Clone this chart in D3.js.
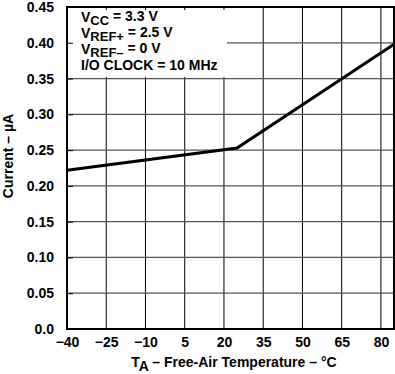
<!DOCTYPE html>
<html>
<head>
<meta charset="utf-8">
<script src="https://cdn.jsdelivr.net/npm/d3@7"></script>
<style>
  body { margin: 0; background: #fff; }
  text { font-family: "Liberation Sans", Arial, sans-serif; font-weight: bold; fill: #000; }
</style>
</head>
<body>
<svg id="chart"></svg>
<script>
// temperature (°C) vs supply current (µA)
const temps = [-40, 25, 85];
const currents = [0.222, 0.253, 0.398];

const xTicks = [-40, -25, -10, 5, 20, 35, 50, 65, 80];
const yTicks = [0, 0.05, 0.1, 0.15, 0.2, 0.25, 0.3, 0.35, 0.4, 0.45];

const width = 395;
const height = 374;
const margin = { top: 7, right: 1, bottom: 45, left: 67 };

const svg = d3.select('#chart')
  .attr('width', width)
  .attr('height', height);

const xScale = d3.scaleLinear()
  .domain([-40, 85])
  .range([margin.left, width - margin.right]);

const yScale = d3.scaleLinear()
  .domain([0, 0.45])
  .range([height - margin.bottom, margin.top]);

// grid
svg.append('g')
  .selectAll('line')
  .data(xTicks.slice(1))
  .join('line')
  .attr('x1', d => xScale(d))
  .attr('x2', d => xScale(d))
  .attr('y1', yScale(0))
  .attr('y2', yScale(0.45))
  .attr('stroke', '#000')
  .attr('stroke-width', 1);

svg.append('g')
  .selectAll('line')
  .data(yTicks.slice(1, -1))
  .join('line')
  .attr('x1', xScale(-40))
  .attr('x2', xScale(85))
  .attr('y1', d => yScale(d))
  .attr('y2', d => yScale(d))
  .attr('stroke', '#555')
  .attr('stroke-width', 1.2);

// legend background
svg.append('rect')
  .attr('x', xScale(-40) + 1)
  .attr('y', 10)
  .attr('width', 227 - xScale(-40) - 1)
  .attr('height', 67)
  .attr('fill', '#fff');

// frame
svg.append('rect')
  .attr('x', xScale(-40))
  .attr('y', yScale(0.45))
  .attr('width', xScale(85) - xScale(-40))
  .attr('height', yScale(0) - yScale(0.45))
  .attr('fill', 'none')
  .attr('stroke', '#000')
  .attr('stroke-width', 2);

// axes
const xAxis = d3.axisBottom(xScale)
  .tickValues(xTicks)
  .tickSize(0)
  .tickPadding(8)
  .tickFormat(d => d3.format('')(d).replace('-', '\u2212'));

const yAxis = d3.axisLeft(yScale)
  .tickValues(yTicks)
  .tickSizeInner(-6)
  .tickSizeOuter(0)
  .tickPadding(13)
  .tickFormat(d => d === 0 ? '0.0' : d3.format('.2f')(d));

svg.append('g')
  .attr('transform', `translate(0,${yScale(0)})`)
  .call(xAxis)
  .call(g => g.select('.domain').remove())
  .selectAll('text')
  .style('font-size', '14px');

svg.append('g')
  .attr('transform', `translate(${xScale(-40)},0)`)
  .call(yAxis)
  .call(g => g.select('.domain').remove())
  .call(g => g.selectAll('.tick line').attr('stroke-width', 1))
  .selectAll('text')
  .style('font-size', '14px');

// data line
const valueline = d3.line()
  .x((d, i) => xScale(temps[i]))
  .y(d => yScale(d));

svg.append('path')
  .datum(currents)
  .attr('fill', 'none')
  .attr('stroke', '#000')
  .attr('stroke-width', 3)
  .attr('d', valueline);

// legend text
const legend = svg.append('g').style('font-size', '14px');
const lx = 81;
const rows = [
  { main: 'V', sub: 'CC', rest: ' = 3.3 V' },
  { main: 'V', sub: 'REF+', rest: ' = 2.5 V' },
  { main: 'V', sub: 'REF\u2013', rest: ' = 0 V' },
  { main: 'I/O CLOCK = 10 MHz', sub: '', rest: '' },
];
rows.forEach((r, i) => {
  const t = legend.append('text')
    .attr('x', lx)
    .attr('y', 22 + i * 16);
  t.append('tspan').text(r.main);
  if (r.sub) {
    t.append('tspan').attr('dy', 3).style('font-size', '13px').text(r.sub);
    t.append('tspan').attr('dy', -4).text(r.rest);
  }
});

// labels
const xl = svg.append('text')
  .attr('text-anchor', 'middle')
  .attr('x', 234)
  .attr('y', 367)
  .style('font-size', '14px');
xl.append('tspan').text('T');
xl.append('tspan').attr('dy', 4).text('A');
xl.append('tspan').attr('dy', -4).text(' \u2013 Free-Air Temperature \u2013 \u00b0C');

svg.append('text')
  .attr('text-anchor', 'middle')
  .attr('transform', 'translate(13,156) rotate(-90)')
  .style('font-size', '14px')
  .text('Current \u2013 \u00b5A');
</script>
</body>
</html>
